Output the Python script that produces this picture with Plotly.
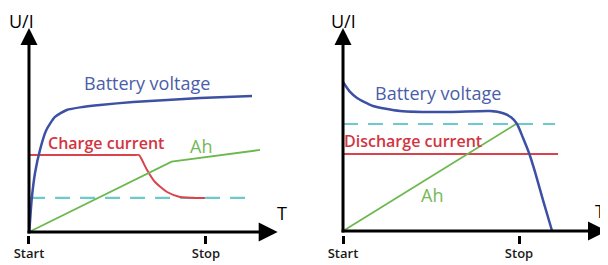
import plotly.graph_objects as go

# ---------------- data (time units: Start = 0, Stop = 10) ----------------
# Left panel: charging
chg_volt_t = [0, 0.02, 0.15, 0.34, 0.62, 0.98, 1.47, 2.13, 3.05, 4.01, 5.88, 7.80, 9.66, 12.6]
chg_volt_u = [0, 0.10, 1.57, 2.89, 4.02, 5.00, 5.64, 5.98, 6.13, 6.23, 6.37, 6.47, 6.57, 6.67]
chg_cur_t = [0, 5.9, 6.22, 6.40, 6.67, 7.12, 7.80, 8.53, 9.38, 9.94]
chg_cur_i = [3.77, 3.77, 3.77, 3.50, 3.04, 2.45, 1.96, 1.72, 1.67, 1.67]
chg_ah_t = [0, 8.06, 13.05]
chg_ah = [0, 3.45, 4.02]
chg_cut_t = [0.06, 12.6]
chg_cut = [1.67, 1.67]

# Right panel: discharging
dis_volt_t = [0, 0.40, 0.80, 1.70, 3.24, 6.08, 8.35, 9.10, 9.55, 9.89, 10.23, 10.57, 10.91, 11.36, 11.88]
dis_volt_u = [7.34, 6.85, 6.55, 6.16, 5.91, 5.86, 5.91, 5.80, 5.60, 5.27, 4.58, 3.84, 2.91, 1.53, 0]
dis_cur_t = [0, 12.22]
dis_cur_i = [3.79, 3.79]
dis_ah_t = [0, 9.83]
dis_ah = [0, 5.27]
dis_cut_t = [0, 12.05]
dis_cut = [5.27, 5.27]

tick_vals = [0, 10]
tick_text = ["Start", "Stop"]

left_t_max, right_t_max, u_max = 14.05, 15.0, 10.0

# ---------------- styles ----------------
BLUE, BLUE_TXT = "#3c50a4", "#4a5ea9"
RED, RED_TXT = "#d9434c", "#d2353f"
GREEN, GREEN_TXT = "#6cb84f", "#74b85a"
CYAN = "#6ccacd"
FONT = "Open Sans"

fig = go.Figure()


def panel(xa, ya, volt_t, volt_u, cur_t, cur_i, ah_t, ah, cut_t, cut, t_max):
    fig.add_trace(go.Scatter(x=cut_t, y=cut, mode="lines", xaxis=xa, yaxis=ya,
                             line=dict(color=CYAN, width=2.2, dash="15px,10px")))
    fig.add_trace(go.Scatter(x=cur_t, y=cur_i, mode="lines", xaxis=xa, yaxis=ya,
                             line=dict(color=RED, width=2, shape="spline", smoothing=0.6)))
    fig.add_trace(go.Scatter(x=ah_t, y=ah, mode="lines", xaxis=xa, yaxis=ya,
                             line=dict(color=GREEN, width=1.8)))
    fig.add_trace(go.Scatter(x=volt_t, y=volt_u, mode="lines", xaxis=xa, yaxis=ya,
                             line=dict(color=BLUE, width=2.5, shape="spline", smoothing=0.6)))
    # axes with arrow heads
    fig.add_trace(go.Scatter(x=[0, 0, None, -0.08, t_max - 0.6], y=[-0.07, u_max - 0.5, None, 0, 0],
                             mode="lines", xaxis=xa, yaxis=ya,
                             line=dict(color="black", width=3)))
    fig.add_trace(go.Scatter(x=[0], y=[u_max], mode="markers", xaxis=xa, yaxis=ya,
                             marker=dict(symbol="arrow-up", size=17, color="black", line=dict(width=0))))
    fig.add_trace(go.Scatter(x=[t_max], y=[0], mode="markers", xaxis=xa, yaxis=ya,
                             marker=dict(symbol="arrow-right", size=19, color="black", line=dict(width=0))))


panel("x", "y", chg_volt_t, chg_volt_u, chg_cur_t, chg_cur_i, chg_ah_t, chg_ah,
      chg_cut_t, chg_cut, left_t_max)
panel("x2", "y2", dis_volt_t, dis_volt_u, dis_cur_t, dis_cur_i, dis_ah_t, dis_ah,
      dis_cut_t, dis_cut, right_t_max)


def ann(xr, yr, x, y, text, color, size, weight="normal", xanchor="center", yanchor="middle"):
    return dict(xref=xr, yref=yr, x=x, y=y, text=text, showarrow=False, xanchor=xanchor,
                yanchor=yanchor, borderpad=0,
                font=dict(family=FONT, size=size, color=color, weight=weight))


annotations = [
    ann("x", "y", 6.69, 7.28, "Battery voltage", BLUE_TXT, 18),
    ann("x", "y", 4.35, 4.36, "Charge current", RED_TXT, 16, 600),
    ann("x", "y", 9.72, 4.22, "Ah", GREEN_TXT, 18),
    ann("x", "y", 14.29, 0.93, "T", "black", 18),
    ann("x", "paper", -0.45, 1.0, "U/I", "black", 18, yanchor="top"),
    ann("x2", "y2", 5.37, 6.80, "Battery voltage", BLUE_TXT, 18),
    ann("x2", "y2", 3.95, 4.43, "Discharge current", RED_TXT, 16, 600),
    ann("x2", "y2", 5.06, 1.77, "Ah", GREEN_TXT, 18),
    ann("x2", "y2", 14.62, 0.99, "T", "black", 18),
    ann("x2", "paper", 0.0, 1.0, "U/I", "black", 18, yanchor="top"),
]

xcommon = dict(anchor="free", position=0.1167, automargin=False, showgrid=False, zeroline=False,
               showline=False, tickmode="array", tickvals=tick_vals, ticktext=tick_text,
               ticks="outside", ticklen=8, tickwidth=2.5, tickcolor="black", ticklabelstandoff=-2,
               tickfont=dict(family=FONT, size=13, color="#1a1a1a", weight=600))
ycommon = dict(visible=False, showgrid=False, zeroline=False, automargin=False)

# the page body has an 8px margin, so the figure is 600x257 and starts at (8, 8)
fig.update_layout(
    template="none",
    width=600, height=257, margin=dict(l=0, r=0, t=0, b=0, pad=0, autoexpand=False),
    paper_bgcolor="white", plot_bgcolor="white", showlegend=False,
    xaxis=dict(domain=[0, 0.5], range=[-1.186, 15.763], **xcommon),
    yaxis=dict(domain=[0, 1], range=[-1.618, 10.98], anchor="x", **ycommon),
    xaxis2=dict(domain=[0.5, 1], range=[-1.989, 15.057], **xcommon),
    yaxis2=dict(domain=[0, 1], range=[-1.675, 10.985], anchor="x2", **ycommon),
    annotations=annotations,
)

fig.write_html("out.html")
